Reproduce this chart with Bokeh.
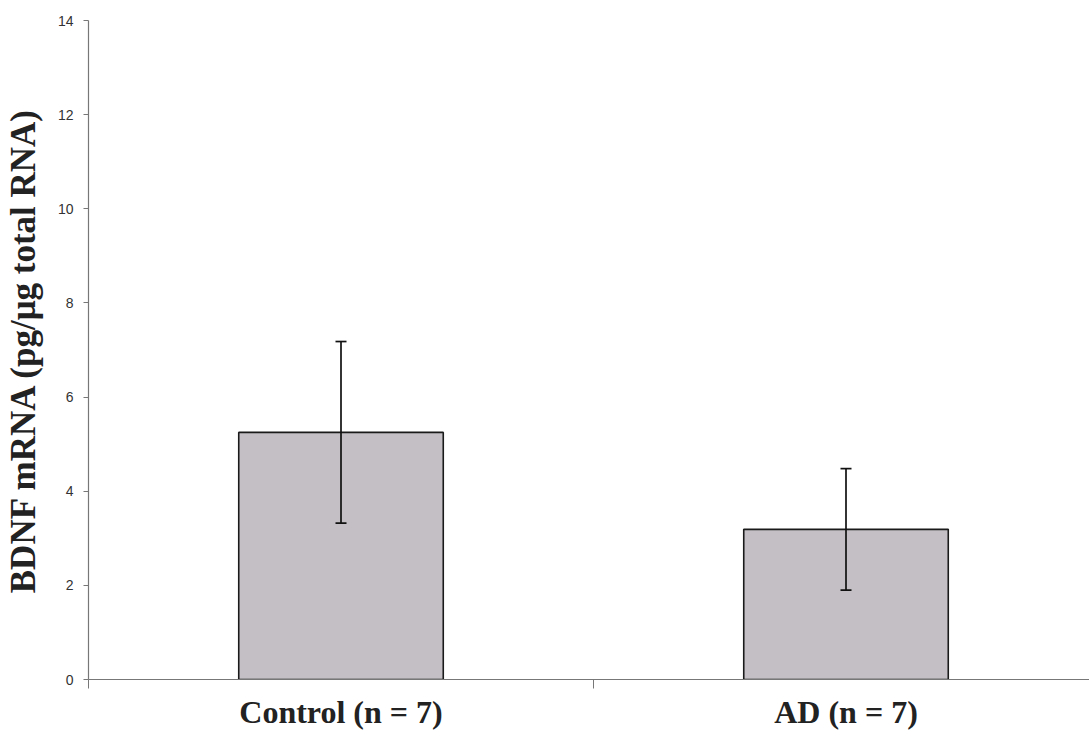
from bokeh.plotting import figure
from bokeh.models import ColumnDataSource, Whisker, TeeHead, FixedTicker, Range1d
from bokeh.embed import file_html
from bokeh.resources import INLINE

categories = ["Control (n = 7)", "AD (n = 7)"]
means = [5.25, 3.19]
sem = [1.93, 1.29]
y_ticks = [0, 2, 4, 6, 8, 10, 12, 14]

xs = [i + 0.5 for i in range(len(categories))]
src = ColumnDataSource(dict(
    x=xs, top=means,
    upper=[m + e for m, e in zip(means, sem)],
    lower=[m - e for m, e in zip(means, sem)],
))

p = figure(width=1089, height=740, output_backend="svg", toolbar_location=None,
           x_range=Range1d(0, 1001 / 505), y_range=Range1d(0, 14),
           min_border_left=88, min_border_right=0, min_border_top=20, min_border_bottom=61)
p.outline_line_color = None
p.grid.grid_line_color = None
p.background_fill_color = "white"
p.border_fill_color = "white"

p.vbar(x="x", top="top", width=0.405, bottom=0, source=src,
       fill_color="#c3bfc4", line_color="#1a1a1a", line_width=1.6)

w = Whisker(base="x", upper="upper", lower="lower", source=src,
            line_color="#111111", line_width=1.7, level="overlay",
            upper_head=TeeHead(size=11, line_color="#111111", line_width=1.7),
            lower_head=TeeHead(size=11, line_color="#111111", line_width=1.7))
p.add_layout(w)

# x axis
xa = p.xaxis[0]
xa.ticker = FixedTicker(ticks=xs, minor_ticks=[float(i) for i in range(len(categories) + 1)])
xa.major_label_overrides = {x: c for x, c in zip(xs, categories)}
xa.major_tick_out = 0
xa.major_tick_in = 0
xa.minor_tick_out = 9
xa.minor_tick_in = 0
xa.minor_tick_line_color = "#777777"
xa.axis_line_color = "#777777"
xa.axis_line_width = 1.2
xa.major_label_text_font = "Liberation Serif"
xa.major_label_text_font_style = "bold"
xa.major_label_text_font_size = "32px"
xa.major_label_text_color = "#222222"
xa.major_label_standoff = 5

# y axis
ya = p.yaxis[0]
ya.ticker = FixedTicker(ticks=y_ticks)
ya.minor_tick_line_color = None
ya.major_tick_out = 5
ya.major_tick_in = 0
ya.major_tick_line_color = "#777777"
ya.axis_line_color = "#777777"
ya.axis_line_width = 1.2
ya.major_label_text_font = "Liberation Sans"
ya.major_label_text_font_size = "14px"
ya.major_label_text_color = "#333333"
ya.major_label_standoff = 10
ya.axis_label = "BDNF mRNA (pg/\u03bcg total RNA)"
ya.axis_label_text_font = "Liberation Serif"
ya.axis_label_text_font_style = "bold"
ya.axis_label_text_font_size = "35px"
ya.axis_label_text_color = "#222222"
ya.axis_label_standoff = 12

open("out.html", "w").write(file_html(p, INLINE))
